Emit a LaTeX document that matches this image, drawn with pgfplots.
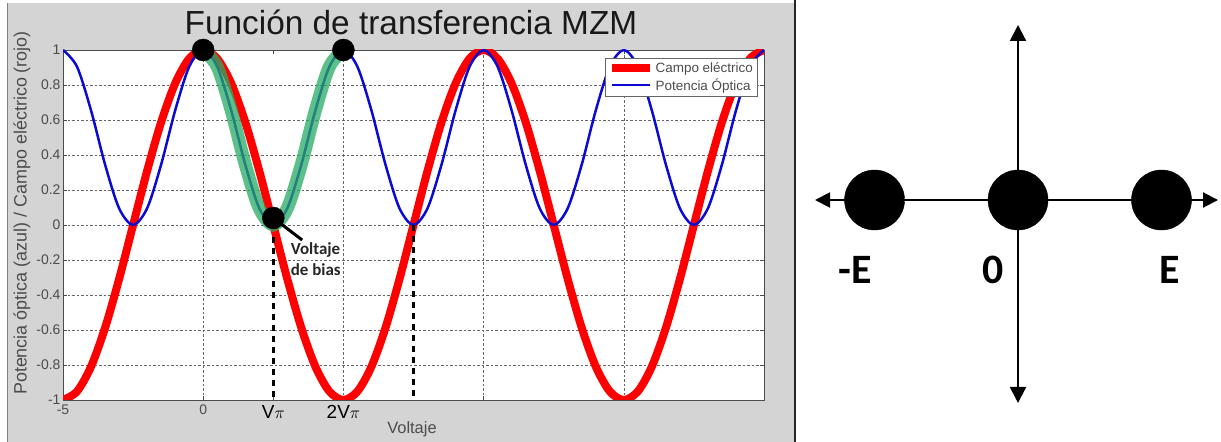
\documentclass[border=0pt]{standalone}
\usepackage{pgfplots}
\pgfplotsset{compat=1.18}
\usepackage{pgfplotstable}
\usepackage{fontspec}
\setmainfont{Liberation Sans}
\newfontfamily\carlito{Carlito}
\usetikzlibrary{arrows.meta}
\definecolor{mred}{RGB}{255,0,0}
\definecolor{mblue}{RGB}{10,10,210}
\definecolor{mgreen}{RGB}{40,170,100}
\definecolor{figgray}{RGB}{212,212,212}

\pgfplotstableread{
x red blue
-5 -1 1
-4.5 -0.9511 0.9045
-4 -0.8090 0.6545
-3.5 -0.5878 0.3455
-3 -0.3090 0.0955
-2.5 0 0
-2 0.3090 0.0955
-1.5 0.5878 0.3455
-1 0.8090 0.6545
-0.5 0.9511 0.9045
0 1 1
0.5 0.9511 0.9045
1 0.8090 0.6545
1.5 0.5878 0.3455
2 0.3090 0.0955
2.5 0 0
3 -0.3090 0.0955
3.5 -0.5878 0.3455
4 -0.8090 0.6545
4.5 -0.9511 0.9045
5 -1 1
5.5 -0.9511 0.9045
6 -0.8090 0.6545
6.5 -0.5878 0.3455
7 -0.3090 0.0955
7.5 0 0
8 0.3090 0.0955
8.5 0.5878 0.3455
9 0.8090 0.6545
9.5 0.9511 0.9045
10 1 1
10.5 0.9511 0.9045
11 0.8090 0.6545
11.5 0.5878 0.3455
12 0.3090 0.0955
12.5 0 0
13 -0.3090 0.0955
13.5 -0.5878 0.3455
14 -0.8090 0.6545
14.5 -0.9511 0.9045
15 -1 1
15.5 -0.9511 0.9045
16 -0.8090 0.6545
16.5 -0.5878 0.3455
17 -0.3090 0.0955
17.5 0 0
18 0.3090 0.0955
18.5 0.5878 0.3455
19 0.8090 0.6545
19.5 0.9511 0.9045
20 1 1
}\mzm

\pgfplotstableread{
x blue
0 1
0.5 0.9045
1 0.6545
1.5 0.3455
2 0.0955
2.5 0
3 0.0955
3.5 0.3455
4 0.6545
4.5 0.9045
5 1
}\bias

\begin{document}
\begin{tikzpicture}[x=1bp,y=1bp]
\path[use as bounding box] (0,0) rectangle (1221,442);
\fill[white] (0,0) rectangle (1221,442);
\fill[figgray] (7,0) rectangle (795,439);
\draw[black!50, line width=1bp] (7,0) -- (7,439);
\draw[black!85, line width=1.5bp] (795,0) -- (795,442);
\node[font=\fontsize{33.5}{38}\selectfont, anchor=base, text=black!90] at (411,407) {Función de transferencia MZM};
\node[font=\fontsize{18}{20}\selectfont, rotate=90, text=black!70] at (22,229) {Potencia óptica (azul) / Campo eléctrico (rojo)};
\node[font=\fontsize{16.5}{18}\selectfont, anchor=base, text=black!70] at (412,8) {Voltaje};

\begin{axis}[
  at={(63bp,42bp)}, anchor=south west,
  scale only axis, width=701bp, height=350bp,
  xmin=-5, xmax=20, ymin=-1, ymax=1,
  axis background/.style={fill=white},
  xtick={-5,0,5,10,15,20}, xticklabels={-5,0,,,,},
  ytick={-1,-0.8,-0.6,-0.4,-0.2,0,0.2,0.4,0.6,0.8,1},
  yticklabels={-1,-0.8,-0.6,-0.4,-0.2,0,0.2,0.4,0.6,0.8,1},
  extra x ticks={2.5,5},
  extra x tick labels={V$\pi$,2V$\pi$},
  extra x tick style={grid=none, tick label style={font=\fontsize{19}{21}\selectfont, text=black}},
  grid=major,
  major grid style={black!60, dash pattern=on 2.5bp off 2bp, line width=0.6bp},
  tick align=inside, major tick length=4bp,
  tick style={black!70, line width=0.6bp},
  axis line style={black!70, line width=0.8bp},
  tick label style={font=\fontsize{14}{16}\selectfont, text=black!70},
  yticklabel style={xshift=1bp},
  xticklabel style={yshift=-1.5bp},
  /pgf/number format/assume math mode=true,
  legend style={at={(0.99,0.977)}, anchor=north east, draw=black!60, fill=white,
    font=\fontsize{13.5}{15}\selectfont, inner sep=2bp, row sep=1bp, text=black!70},
  legend cell align=left,
  legend image code/.code={\draw[#1] (0bp,0bp) -- (38bp,0bp);},
]
\addplot[mred, line width=8bp, smooth] table[x=x,y=red]{\mzm};
\addlegendentry{Campo eléctrico}
\addplot[mblue, line width=2.5bp, smooth] table[x=x,y=blue]{\mzm};
\addlegendentry{Potencia Óptica}
\addplot[forget plot, draw=mgreen, opacity=0.75, line width=13bp, smooth] table[x=x,y=blue]{\bias};
\addplot[forget plot, black, line width=3bp, dash pattern=on 6bp off 5bp] coordinates {(2.5,-0.07) (2.5,-1)};
\addplot[forget plot, black, line width=3bp, dash pattern=on 6bp off 5bp] coordinates {(7.5,0) (7.5,-1)};
\addplot[forget plot, black, line width=3bp] coordinates {(2.5,0.04) (3.53,-0.086)};
\addplot[forget plot, only marks, mark=*, mark size=11bp, black] coordinates {(0,1) (2.5,0.04) (5,1)};
\node[font=\carlito\bfseries\fontsize{17}{19}\selectfont, anchor=west, text=black!85] at (axis cs:3.0,-0.143) {Voltaje};
\node[font=\carlito\bfseries\fontsize{17}{19}\selectfont, anchor=west, text=black!85] at (axis cs:3.0,-0.257) {de bias};
\node[font=\fontsize{12}{14}\selectfont, anchor=south west, text=black!70, inner sep=1bp] at (rel axis cs:0,1) {x 10\textsuperscript{-3}};
\end{axis}

\begin{axis}[
  at={(815bp,39bp)}, anchor=south west,
  scale only axis, width=403bp, height=378bp,
  xmin=-1.415, xmax=1.394, ymin=-1.415, ymax=1.22,
  hide axis, clip=false,
]
\draw[line width=2bp, {Triangle[length=15bp,width=15bp]}-{Triangle[length=15bp,width=15bp]}] (axis cs:-1.415,0) -- (axis cs:1.394,0);
\draw[line width=2bp, {Triangle[length=16bp,width=16bp]}-{Triangle[length=16bp,width=16bp]}] (axis cs:0,-1.415) -- (axis cs:0,1.22);
\addplot[only marks, mark=*, mark size=30bp, black] coordinates {(-1,0) (0,0) (1,0)};
\node[font=\carlito\bfseries\fontsize{42}{46}\selectfont] at (axis cs:-1.136,-0.488) {-E};
\node[font=\carlito\bfseries\fontsize{42}{46}\selectfont] at (axis cs:-0.174,-0.488) {0};
\node[font=\carlito\bfseries\fontsize{42}{46}\selectfont] at (axis cs:1.059,-0.488) {E};
\end{axis}
\end{tikzpicture}
\end{document}
